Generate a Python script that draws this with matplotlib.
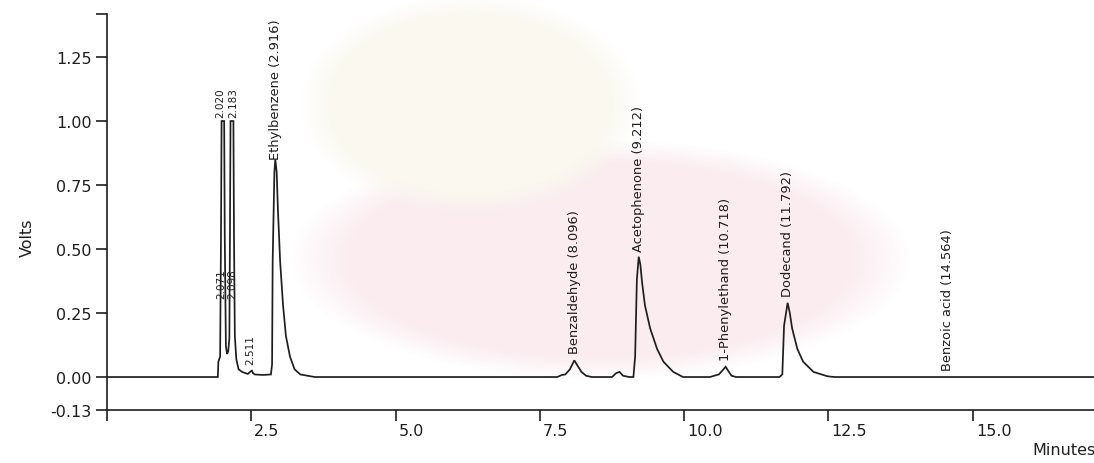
import numpy as np
import matplotlib
matplotlib.use("Agg")
import matplotlib.pyplot as plt
import matplotlib.transforms as mtransforms

# ---- chromatogram trace, read as (minutes, volts) per region ----
lead_t = [0.0, 1.90]
lead_v = [0.0, 0.0]

cluster_t = [1.92, 1.93, 1.96, 1.975, 1.985, 2.03, 2.04, 2.06, 2.08, 2.10, 2.12,
             2.13, 2.14, 2.19, 2.20, 2.215, 2.24, 2.28, 2.34, 2.44, 2.48, 2.51,
             2.53, 2.56, 2.70, 2.84]
cluster_v = [0.0, 0.06, 0.08, 0.55, 1.0, 1.0, 0.55, 0.12, 0.09, 0.10, 0.15,
             0.55, 1.0, 1.0, 0.55, 0.16, 0.07, 0.03, 0.02, 0.012, 0.02, 0.025,
             0.015, 0.01, 0.008, 0.01]

ethyl_t = [2.86, 2.87, 2.90, 2.916, 2.94, 2.96, 3.00, 3.05, 3.10, 3.17, 3.25,
           3.35, 3.60]
ethyl_v = [0.05, 0.45, 0.80, 0.85, 0.80, 0.66, 0.45, 0.28, 0.16, 0.08, 0.03,
           0.01, 0.0]

benzald_t = [7.80, 7.88, 7.94, 8.02, 8.096, 8.15, 8.22, 8.30, 8.40]
benzald_v = [0.0, 0.008, 0.01, 0.03, 0.065, 0.045, 0.02, 0.005, 0.0]

aceto_t = [8.75, 8.82, 8.88, 8.94, 9.05, 9.12, 9.15, 9.18, 9.212, 9.24, 9.27,
           9.32, 9.41, 9.53, 9.64, 9.81, 9.98]
aceto_v = [0.0, 0.015, 0.02, 0.005, 0.0, 0.0, 0.08, 0.38, 0.47, 0.44, 0.37,
           0.28, 0.19, 0.11, 0.06, 0.02, 0.0]

phenyl_t = [10.45, 10.52, 10.60, 10.66, 10.718, 10.76, 10.82, 10.90]
phenyl_v = [0.0, 0.005, 0.01, 0.025, 0.04, 0.025, 0.005, 0.0]

dodec_t = [11.65, 11.70, 11.73, 11.792, 11.83, 11.87, 11.96, 12.06, 12.24,
           12.48, 12.60, 17.10]
dodec_v = [0.0, 0.01, 0.20, 0.29, 0.25, 0.19, 0.11, 0.06, 0.02, 0.003, 0.0,
           0.0]

# ---- peak annotations ----
peak_names = ["Ethylbenzene (2.916)", "Benzaldehyde (8.096)",
              "Acetophenone (9.212)", "1-Phenylethand (10.718)",
              "Dodecand (11.792)", "Benzoic acid (14.564)"]
peak_times = [2.916, 8.096, 9.212, 10.718, 11.792, 14.564]
peak_heights = [0.85, 0.065, 0.47, 0.04, 0.29, 0.0]
label_gaps = [0, 5, 4, 5, 5, 5]

# retention-time-only labels in the first cluster
rt_names = ["2.020", "2.183", "2.511", "2.071", "2.098"]
rt_times = [2.020, 2.183, 2.511, 2.071, 2.098]
rt_base = [1.0, 1.0, 0.025, 0.31, 0.31]
rt_dx = [-2.5, 0.5, -1.0, -3.5, 3.0]
rt_gaps = [3, 3, 5, 0, 0]

x_ticks = [0.0, 2.5, 5.0, 7.5, 10.0, 12.5, 15.0]
x_tick_labels = ["", "2.5", "5.0", "7.5", "10.0", "12.5", "15.0"]
y_ticks = [-0.13, 0.0, 0.25, 0.50, 0.75, 1.00, 1.25, 1.42]
y_tick_labels = ["-0.13", "0.00", "0.25", "0.50", "0.75", "1.00", "1.25", ""]

ink = "#1e1e1e"
plt.rcParams["font.family"] = ["DejaVu Sans"]

W, H = 1094, 464
fig = plt.figure(figsize=(W / 100, H / 100), dpi=100)
fig.patch.set_facecolor("white")

# faint, soft-edged background emblem (pink disc and pale crest)
yy, xx = np.mgrid[0:H, 0:W]
def soft_blob(cx, cy, rx, ry, edge=0.35):
    d = ((xx - cx) / rx) ** 2 + ((yy - cy) / ry) ** 2
    return np.clip((1.0 - d) / edge, 0.0, 1.0)

pink = np.array([251, 236, 240]) / 255.0
beige = np.array([250, 248, 239]) / 255.0
bg = np.ones((H, W, 3))
a_pink = soft_blob(600, 260, 310, 120)[..., None]
bg = bg * (1 - a_pink) + pink * a_pink
a_beige = soft_blob(470, 105, 170, 110)[..., None]
bg = bg * (1 - a_beige) + beige * a_beige
bg_ax = fig.add_axes([0, 0, 1, 1], zorder=0)
bg_ax.imshow(bg, aspect="auto", interpolation="bilinear")
bg_ax.set_axis_off()

left_px, bottom_px, right_px, top_px = 107, 411.3, 1094, 14.5
ax = fig.add_axes([left_px / W, 1 - bottom_px / H,
                   (right_px - left_px) / W, (bottom_px - top_px) / H])
ax.set_zorder(2)
ax.patch.set_alpha(0)

t_all = lead_t + cluster_t + ethyl_t + benzald_t + aceto_t + phenyl_t + dodec_t
v_all = lead_v + cluster_v + ethyl_v + benzald_v + aceto_v + phenyl_v + dodec_v
ax.plot(t_all, v_all, color=ink, lw=1.25, solid_joinstyle="miter")

ax.set_xlim(0, 17.1)
ax.set_ylim(-0.13, 1.42)

for s in ("top", "right"):
    ax.spines[s].set_visible(False)
for s in ("left", "bottom"):
    ax.spines[s].set_color(ink)
    ax.spines[s].set_linewidth(1.2)

ax.set_xticks(x_ticks)
ax.set_xticklabels(x_tick_labels, fontsize=11.5, color=ink)
ax.set_yticks(y_ticks)
ax.set_yticklabels(y_tick_labels, fontsize=11.5, color=ink)
ax.tick_params(axis="y", direction="out", length=8, width=1.2, color=ink, pad=3)
ax.tick_params(axis="x", direction="out", length=8, width=1.2, color=ink, pad=1)
shift = mtransforms.ScaledTranslation(3 / 100, 0, fig.dpi_scale_trans)
for lbl in ax.get_xticklabels():
    lbl.set_horizontalalignment("left")
    lbl.set_transform(lbl.get_transform() + shift)

for name, t, h, gap in zip(peak_names, peak_times, peak_heights, label_gaps):
    ax.annotate(name, xy=(t, h), xytext=(0, gap), textcoords="offset points",
                rotation=90, ha="center", va="bottom", fontsize=9.4,
                color=ink)
for name, t, h, dx, gap in zip(rt_names, rt_times, rt_base, rt_dx, rt_gaps):
    ax.annotate(name, xy=(t, h), xytext=(dx, gap), textcoords="offset points",
                rotation=90, ha="center", va="bottom", fontsize=7.5,
                color=ink)

fig.text(27 / W, 1 - 238 / H, "Volts", rotation=90, ha="center", va="center",
         fontsize=11.5, color=ink, zorder=3)
fig.text(1032 / W, 1 - 451 / H, "Minutes", ha="left", va="center",
         fontsize=11.5, color=ink, zorder=3)

fig.savefig("out.png", dpi=100, facecolor="white")
